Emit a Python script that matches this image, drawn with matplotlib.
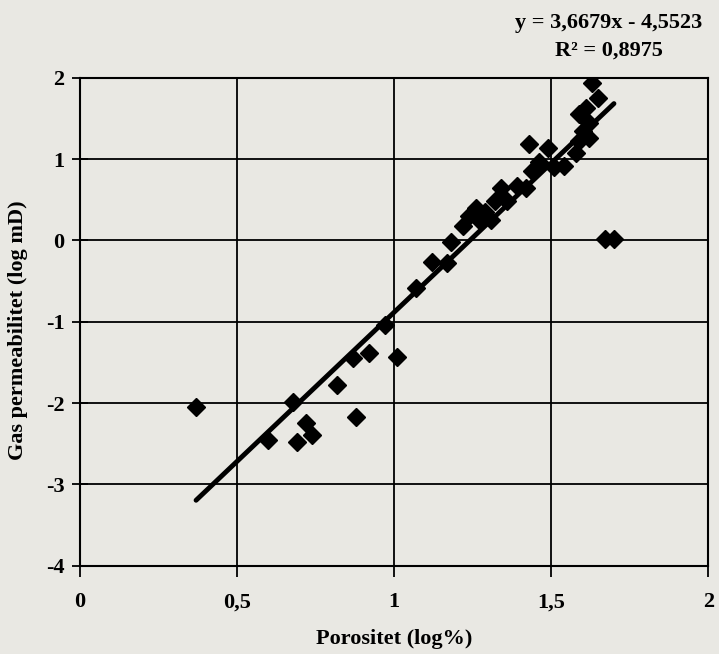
import numpy as np
import matplotlib
matplotlib.use("Agg")
import matplotlib.pyplot as plt

# Data
porositet = [0.37, 0.60, 0.68, 0.69, 0.72, 0.74, 0.82, 0.87, 0.88, 0.92,
             0.97, 1.01, 1.07, 1.12, 1.17, 1.18, 1.22, 1.24, 1.26, 1.27,
             1.29, 1.31, 1.32, 1.34, 1.36, 1.39, 1.42, 1.43, 1.44, 1.46,
             1.49, 1.51, 1.54, 1.58, 1.59, 1.60, 1.62, 1.59, 1.61, 1.62,
             1.65, 1.63, 1.67, 1.70]
permeabilitet = [-2.05, -2.45, -1.99, -2.48, -2.24, -2.39, -1.78, -1.45, -2.17, -1.39,
                 -1.04, -1.43, -0.59, -0.27, -0.28, -0.02, 0.18, 0.30, 0.40, 0.25,
                 0.35, 0.25, 0.49, 0.64, 0.49, 0.67, 0.64, 1.19, 0.86, 0.96,
                 1.14, 0.90, 0.92, 1.07, 1.22, 1.35, 1.26, 1.56, 1.63, 1.45,
                 1.75, 1.94, 0.02, 0.02]

slope = 3.6679
intercept = -4.5523
r2 = 0.8975

x_ticks = [0, 0.5, 1, 1.5, 2]
x_ticklabels = ["0", "0,5", "1", "1,5", "2"]
y_ticks = [-4, -3, -2, -1, 0, 1, 2]
y_ticklabels = ["-4", "-3", "-2", "-1", "0", "1", "2"]

bg = "#e9e8e3"
plt.rcParams["font.family"] = ["Liberation Serif", "DejaVu Serif"]
plt.rcParams["font.weight"] = "bold"
plt.rcParams["axes.unicode_minus"] = False

fig = plt.figure(figsize=(7.19, 6.54), dpi=100, facecolor=bg)
ax = fig.add_axes([0.111, 0.135, 0.874, 0.746], facecolor=bg)

ax.plot(porositet, permeabilitet, linestyle="none", marker="D",
        markersize=9.5, color="black", zorder=3)

# Trendlinje
xs = np.array([min(porositet), max(porositet)])
ax.plot(xs, slope * xs + intercept, color="black", linewidth=3.5,
        solid_capstyle="round", zorder=4)

ax.set_xlim(0, 2)
ax.set_ylim(-4, 2)
ax.set_xticks(x_ticks)
ax.set_xticklabels(x_ticklabels)
ax.set_yticks(y_ticks)
ax.set_yticklabels(y_ticklabels)
ax.grid(True, color="black", linewidth=1.3)
ax.set_axisbelow(True)

for s in ax.spines.values():
    s.set_linewidth(1.5)
    s.set_color("black")

ax.tick_params(axis="x", direction="out", length=8, width=1.3,
               labelsize=16, pad=11)
ax.tick_params(axis="y", direction="inout", length=12, width=1.3,
               labelsize=16, pad=5)

ax.set_xlabel("Porositet (log%)", fontsize=16, fontweight="bold", labelpad=12)
ax.set_ylabel("Gas permeabilitet (log mD)", fontsize=16, fontweight="bold")
ax.yaxis.set_label_coords(-0.083, 0.482)

eq = "y = 3,6679x - 4,5523"
r2_txt = "R² = " + f"{r2:.4f}".replace(".", ",")
fig.text(0.847, 0.965, eq, ha="center", va="center",
         fontsize=16, fontweight="bold")
fig.text(0.847, 0.922, r2_txt, ha="center", va="center",
         fontsize=16, fontweight="bold")

fig.savefig("out.png", dpi=100, facecolor=bg)
